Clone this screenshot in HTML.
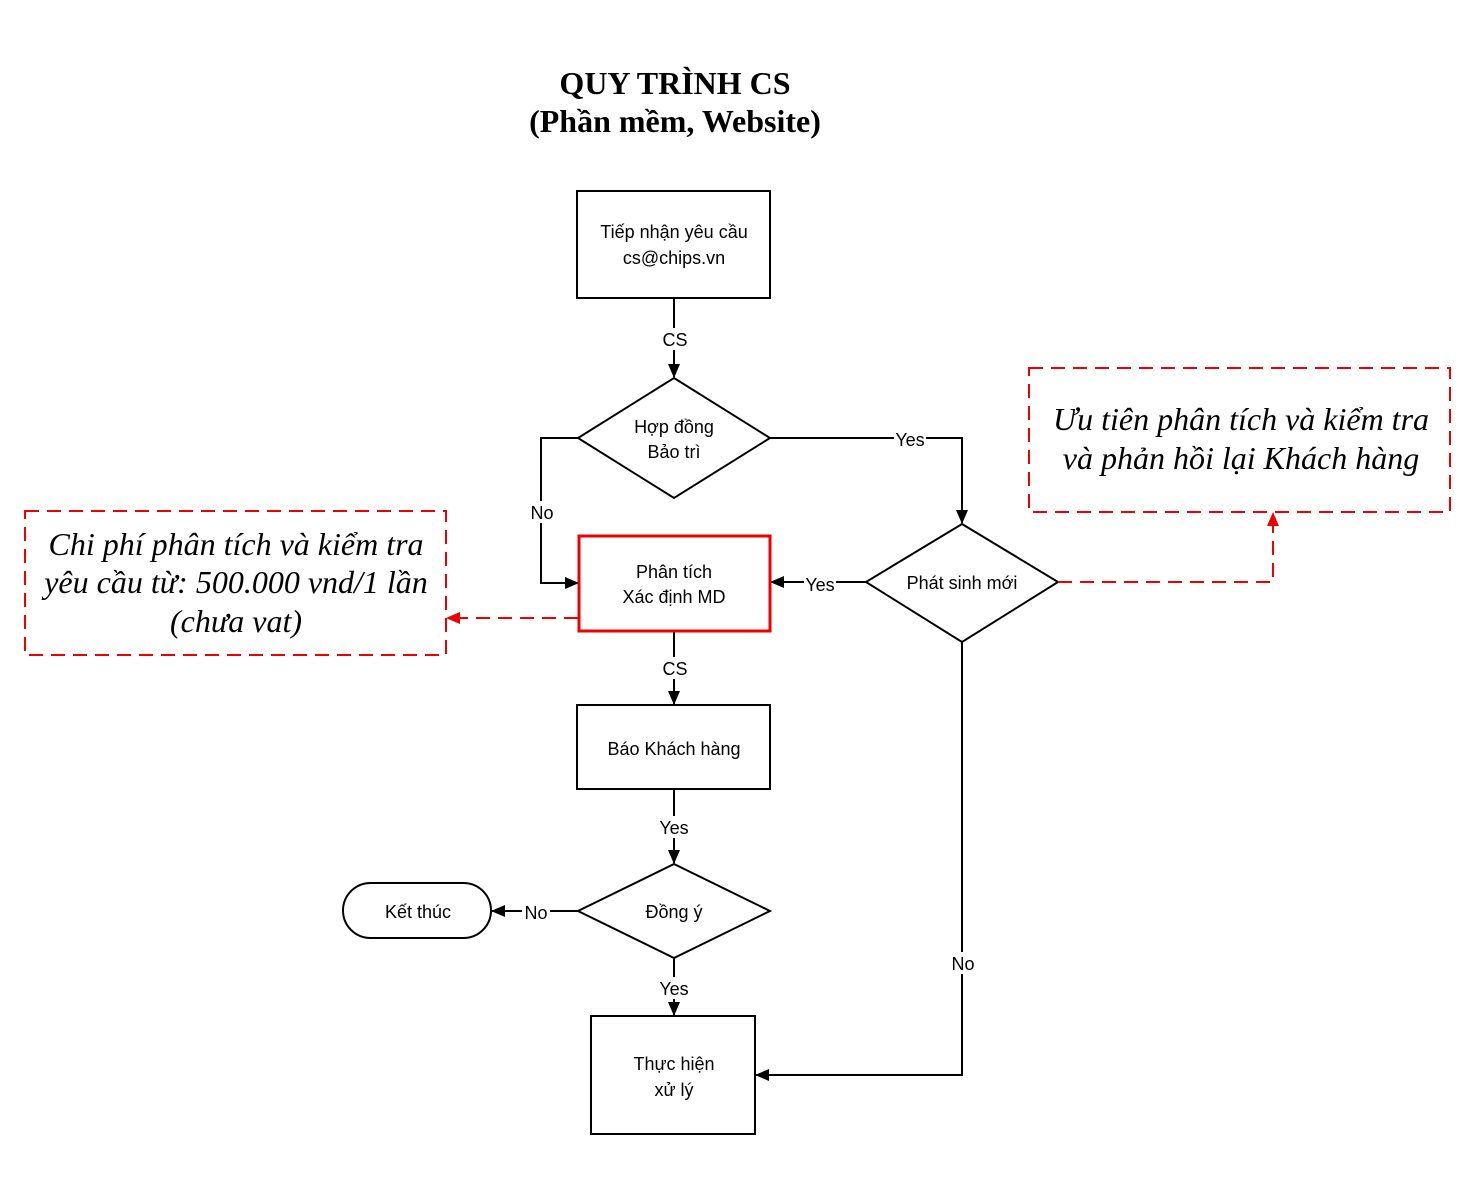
<!DOCTYPE html>
<html><head><meta charset="utf-8"><style>
html,body{margin:0;padding:0;background:#fff;width:1476px;height:1188px;overflow:hidden}
svg text{font-family:"Liberation Sans",sans-serif;font-size:18px;fill:#000}
.t{font-family:"Liberation Serif",serif;font-weight:bold;font-size:32px}
.i{font-family:"Liberation Serif",serif;font-style:italic;font-size:32px}
</style></head><body>
<svg width="1476" height="1188" viewBox="0 0 1476 1188" xmlns="http://www.w3.org/2000/svg">
<defs>
<marker id="a" markerWidth="14" markerHeight="14" refX="13" refY="7" orient="auto" markerUnits="userSpaceOnUse"><path d="M0,1 L14,7 L0,13 z" fill="#000"/></marker>
<marker id="r" markerWidth="14" markerHeight="14" refX="13" refY="7" orient="auto" markerUnits="userSpaceOnUse"><path d="M0,1 L14,7 L0,13 z" fill="#e00"/></marker>
</defs>
<text class="t" x="675" y="94" text-anchor="middle">QUY TRÌNH CS</text>
<text class="t" x="675" y="132" text-anchor="middle">(Phần mềm, Website)</text>

<g fill="none" stroke="#000" stroke-width="2">
<rect x="577" y="191" width="193" height="107" fill="#fff"/>
<polygon points="674,378 770,438 674,498 578,438" fill="#fff"/>
<polygon points="962,524 1058,582 962,642 866,582" fill="#fff"/>
<rect x="577" y="705" width="193" height="84"/>
<polygon points="674,864 770,911 674,958 578,911"/>
<rect x="343" y="883" width="148" height="55" rx="27.5"/>
<rect x="591" y="1016" width="164" height="118"/>
<path d="M674,298 V377" marker-end="url(#a)"/>
<path d="M578,438 H541 V583 H578" marker-end="url(#a)"/>
<path d="M770,438 H962 V523" marker-end="url(#a)"/>
<path d="M866,582 H771" marker-end="url(#a)"/>
<path d="M674,631 V704" marker-end="url(#a)"/>
<path d="M674,789 V863" marker-end="url(#a)"/>
<path d="M578,911 H492" marker-end="url(#a)"/>
<path d="M674,958 V1015" marker-end="url(#a)"/>
<path d="M962,642 V1075 H756" marker-end="url(#a)"/>
</g>
<rect x="579" y="536" width="191" height="95" fill="#fff" stroke="#e00" stroke-width="3"/>
<g fill="none" stroke="#e00" stroke-width="2" stroke-dasharray="14,8">
<rect x="1029" y="368" width="421" height="144"/>
<rect x="25" y="511" width="421" height="144"/>
<path d="M1058,582 H1273 V513" marker-end="url(#r)"/>
<path d="M578,618 H447" marker-end="url(#r)"/>
</g>

<g text-anchor="middle">
<text x="674" y="238">Tiếp nhận yêu cầu</text>
<text x="674" y="264">cs@chips.vn</text>
<text x="674" y="433">Hợp đồng</text>
<text x="674" y="458">Bảo trì</text>
<text x="674" y="578">Phân tích</text>
<text x="674" y="603">Xác định MD</text>
<text x="962" y="589">Phát sinh mới</text>
<text x="674" y="755">Báo Khách hàng</text>
<text x="674" y="918">Đồng ý</text>
<text x="418" y="918">Kết thúc</text>
<text x="674" y="1070">Thực hiện</text>
<text x="674" y="1096">xử lý</text>
</g>
<g text-anchor="middle">
<rect x="662" y="328" width="26" height="22" fill="#fff"/><text x="675" y="346">CS</text>
<rect x="528" y="501" width="28" height="22" fill="#fff"/><text x="542" y="519">No</text>
<rect x="894" y="428" width="32" height="22" fill="#fff"/><text x="910" y="446">Yes</text>
<rect x="804" y="573" width="32" height="22" fill="#fff"/><text x="820" y="591">Yes</text>
<rect x="662" y="657" width="26" height="22" fill="#fff"/><text x="675" y="675">CS</text>
<rect x="658" y="816" width="32" height="22" fill="#fff"/><text x="674" y="834">Yes</text>
<rect x="522" y="901" width="28" height="22" fill="#fff"/><text x="536" y="919">No</text>
<rect x="658" y="977" width="32" height="22" fill="#fff"/><text x="674" y="995">Yes</text>
<rect x="949" y="952" width="28" height="22" fill="#fff"/><text x="963" y="970">No</text>
</g>
<g text-anchor="middle">
<text class="i" x="1241" y="430">Ưu tiên phân tích và kiểm tra</text>
<text class="i" x="1241" y="469">và phản hồi lại Khách hàng</text>
<text class="i" x="236" y="555">Chi phí phân tích và kiểm tra</text>
<text class="i" x="236" y="593">yêu cầu từ: 500.000 vnd/1 lần</text>
<text class="i" x="236" y="632">(chưa vat)</text>
</g>
</svg>
</body></html>
